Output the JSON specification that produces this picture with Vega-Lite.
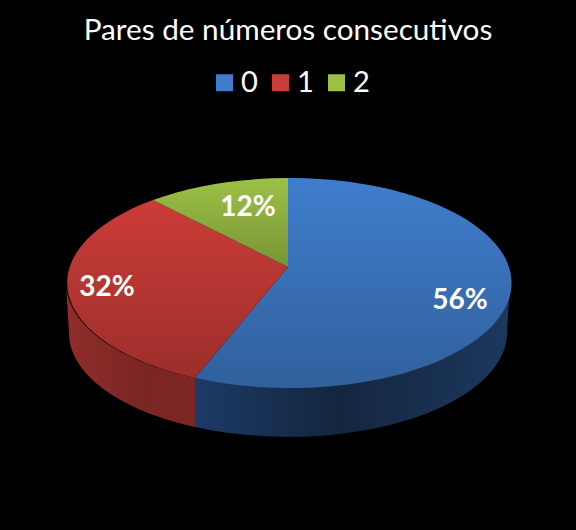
{
  "$schema": "https://vega.github.io/schema/vega-lite/v6.json",
  "width": 576,
  "height": 530,
  "padding": 0,
  "autosize": "none",
  "background": "black",
  "config": {"view": {"stroke": null}},
  "title": {
    "text": "Pares de números consecutivos",
    "color": "white",
    "font": "Lato",
    "fontSize": 29.7,
    "fontWeight": "normal",
    "anchor": "middle",
    "frame": "group",
    "baseline": "top",
    "offset": -47
  },
  "data": {
    "values": [
      {"pares": "0", "sector": "a", "share": 0.56},
      {"pares": "1", "sector": "b", "share": 0.32},
      {"pares": "2", "sector": "c", "share": 0.12}
    ]
  },
  "layer": [
    {
      "transform": [{"filter": "datum.pares === '0'"}],
      "mark": {
        "type": "point", "filled": true, "opacity": 1, "size": 40000, "strokeWidth": 0,
        "shape": "M2.22,0.18 L2.19,0.68 A2.19,1.04 0 0 1 -0.93,1.62 L-0.93,1.13 A2.22,1.05 0 0 0 2.22,0.18 Z",
        "fill": {"gradient": "linear", "x1": 0, "x2": 1, "y1": 0, "y2": 0, "stops": [
          {"offset": 0, "color": "#1c3a66"},
          {"offset": 0.45, "color": "#14263f"},
          {"offset": 1, "color": "#1c385e"}
        ]}
      },
      "encoding": {}
    },
    {
      "transform": [{"filter": "datum.pares === '1'"}],
      "mark": {
        "type": "point", "filled": true, "opacity": 1, "size": 40000, "strokeWidth": 0,
        "shape": "M-0.93,1.13 L-0.93,1.62 A2.19,1.04 0 0 1 -2.19,0.68 L-2.22,0.18 A2.22,1.05 0 0 0 -0.93,1.13 Z",
        "fill": {"gradient": "linear", "x1": 0, "x2": 1, "y1": 0, "y2": 0, "stops": [
          {"offset": 0, "color": "#8f2d2a"},
          {"offset": 0.6, "color": "#7a2624"},
          {"offset": 1, "color": "#7d2725"}
        ]}
      },
      "encoding": {}
    },
    {
      "mark": {"type": "point", "filled": true, "opacity": 1, "size": 40000, "strokeWidth": 0},
      "encoding": {
        "color": {
          "field": "pares",
          "type": "nominal",
          "scale": {"domain": ["0", "1", "2"], "range": ["#3f7dcc", "#cb3c38", "#9cc146"]},
          "legend": {
            "title": null,
            "orient": "none",
            "legendX": 210,
            "legendY": 68,
            "direction": "horizontal",
            "columns": 3,
            "symbolType": "square",
            "symbolSize": 289,
            "symbolStrokeWidth": 0,
            "symbolOpacity": 1,
            "labelColor": "white",
            "labelFont": "Lato",
            "labelFontSize": 29,
            "labelLimit": 40,
            "labelOffset": 2,
            "columnPadding": 8
          }
        },
        "shape": {
          "field": "sector",
          "type": "nominal",
          "legend": null,
          "scale": {
            "domain": ["a", "b", "c"],
            "range": [
              "M0,0.02 L0,-0.87 A2.22,1.05 0 1 1 -0.93,1.13 Z",
              "M0,0.02 L-0.93,1.13 A2.22,1.05 0 0 1 -1.35,-0.65 Z",
              "M0,0.02 L-1.35,-0.65 A2.22,1.05 0 0 1 0,-0.87 Z"
            ]
          }
        }
      }
    },
    {
      "mark": {
        "type": "point", "filled": true, "opacity": 1, "size": 40000, "strokeWidth": 0,
        "fill": {"gradient": "linear", "x1": 0, "x2": 0, "y1": 0, "y2": 1, "stops": [
          {"offset": 0, "color": "rgba(0,0,0,0)"},
          {"offset": 1, "color": "rgba(0,0,0,0.23)"}
        ]}
      },
      "encoding": {
        "shape": {
          "field": "sector",
          "type": "nominal",
          "legend": null,
          "scale": {
            "domain": ["a", "b", "c"],
            "range": [
              "M0,0.02 L0,-0.87 A2.22,1.05 0 1 1 -0.93,1.13 Z",
              "M0,0.02 L-0.93,1.13 A2.22,1.05 0 0 1 -1.35,-0.65 Z",
              "M0,0.02 L-1.35,-0.65 A2.22,1.05 0 0 1 0,-0.87 Z"
            ]
          }
        }
      }
    },
    {
      "transform": [{"filter": "datum.pares === '0'"}],
      "mark": {"type": "text", "color": "white", "font": "Lato", "fontSize": 28, "fontWeight": "bold", "dx": 172, "dy": 36},
      "encoding": {"text": {"field": "share", "type": "quantitative", "format": ".0%"}}
    },
    {
      "transform": [{"filter": "datum.pares === '1'"}],
      "mark": {"type": "text", "color": "white", "font": "Lato", "fontSize": 28, "fontWeight": "bold", "dx": -181, "dy": 23},
      "encoding": {"text": {"field": "share", "type": "quantitative", "format": ".0%"}}
    },
    {
      "transform": [{"filter": "datum.pares === '2'"}],
      "mark": {"type": "text", "color": "white", "font": "Lato", "fontSize": 28, "fontWeight": "bold", "dx": -40, "dy": -57},
      "encoding": {"text": {"field": "share", "type": "quantitative", "format": ".0%"}}
    }
  ]
}
